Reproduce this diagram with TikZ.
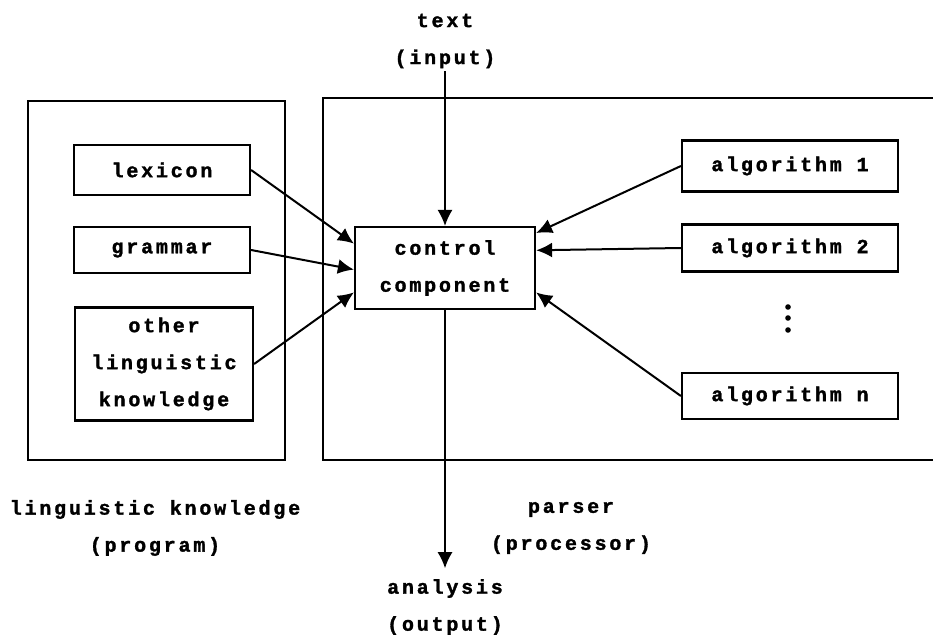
\documentclass[tikz,border=0pt]{standalone}
\usepackage{fontspec}
\setmonofont{Liberation Mono}[LetterSpace=14,BoldFeatures={FakeBold=1.5}]
\usepackage{tikz}
\usetikzlibrary{arrows.meta}

\begin{document}
\begin{tikzpicture}
	[x=1pt,y=-1pt,line width=2pt,
	every node/.style={font=\ttfamily\bfseries\fontsize{20}{37}\selectfont,align=center,inner sep=2pt},
	part/.style={draw,line width=2.2pt},
	flow/.style={-{Latex[length=16pt,width=15pt]}}]
	\useasboundingbox (0,0) rectangle (933,636);

	% the two frames, the parser one is open to the right
	\draw (28,101) rectangle (285,460);
	\draw (933,98) -| (323,460) -- (933,460);

	\node[part,minimum width=176pt,minimum height=50pt] (lex) at (162,170) {lexicon};
	\node[part,minimum width=176pt,minimum height=46pt] (gram) at (162,250) {grammar};
	\node[part,minimum width=178pt,minimum height=113pt] (other) at (164,364) {other\\linguistic\\knowledge};

	\node[part,minimum width=180pt,minimum height=82pt] (ctrl) at (445,268) {control\\component};

	\node[part,minimum width=216pt,minimum height=51pt] (alg1) at (790,166) {algorithm 1};
	\node[part,minimum width=216pt,minimum height=47pt] (alg2) at (790,248) {algorithm 2};
	\node[part,minimum width=216pt,minimum height=46pt] (algn) at (790,396) {algorithm n};
	\foreach \y in {307,318,330}
		\fill (788,\y) circle (2.8pt);

	\node (input) at (445,41) {text\\(input)};
	\node (output) at (445,607) {analysis\\(output)};
	\node (lk) at (155,528) {linguistic knowledge\\(program)};
	\node (parser) at (571,528) {parser\\(processor)};

	\foreach \from/\to in
	{lex.east/ctrl.165, gram.east/ctrl.181, other.east/ctrl.195,
	 alg1.west/ctrl.21, alg2.west/ctrl.11, algn.west/ctrl.345}
	\draw[flow] (\from) -- (\to);

	\draw[flow,line width=1.5pt] (input.south) -- (ctrl.north);
	\draw[flow,line width=1.5pt,shorten >=8pt] (ctrl.south) -- (output.north);
\end{tikzpicture}
\end{document}
